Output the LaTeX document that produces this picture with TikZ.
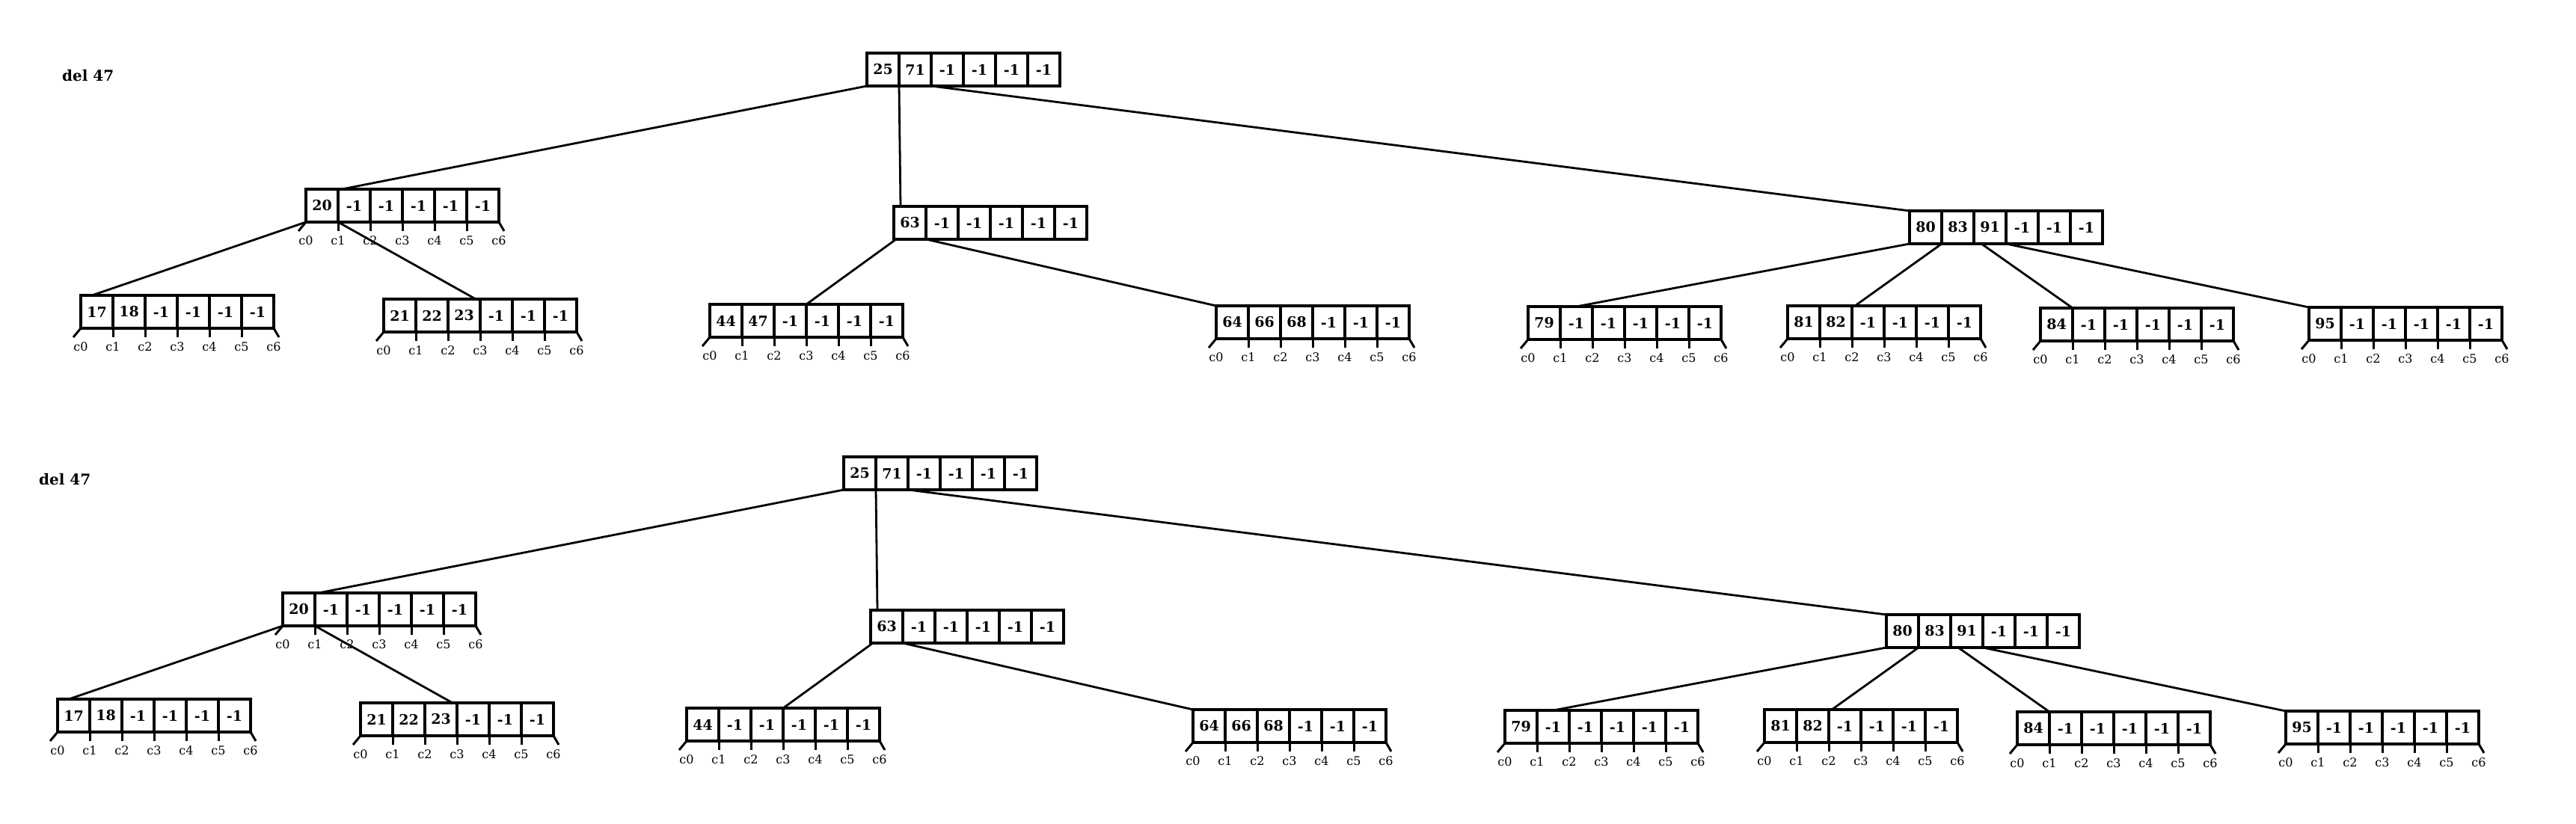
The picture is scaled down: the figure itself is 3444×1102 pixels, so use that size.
\documentclass[tikz,border=0pt]{standalone}
\usepackage{fontspec}
\setmainfont{DejaVu Serif}
\usetikzlibrary{calc}
\tikzset{
  cell/.style={draw, line width=3.2pt, minimum width=43pt, minimum height=44pt,
    inner sep=0pt, outer sep=0pt, font=\fontsize{19}{20}\selectfont\bfseries},
  lab/.style={font=\fontsize{16}{18}\selectfont, inner sep=0pt},
  titletext/.style={font=\fontsize{20}{22}\selectfont\bfseries, anchor=west, inner sep=0pt},
  conn/.style={line width=2.8pt},
  tickln/.style={line width=3pt},
}
\newcommand\btnode[4]{%
  \foreach \v [count=\i] in {#4} {\node[cell] (#1-\i) at ({#2+43*\i-21.5},{#3+22}) {\v};}}
\newcommand\clabels[1]{%
  \foreach \i in {1,...,5} {\draw[tickln] (#1-\i.south east) -- ++(0,12);}
  \draw[tickln] (#1-1.south west) -- ++(-10,12);
  \draw[tickln] (#1-6.south east) -- ++(7,12);
  \node[lab] (#1-c0) at ([yshift=-25pt]#1-1.south west) {c0};
  \foreach \i in {1,...,6} {\node[lab] (#1-c\i) at ([yshift=-25pt]#1-\i.south east) {c\i};}
}
\newcommand\drawtree[4]{%
\begin{scope}[shift={(#2,#3)}]
  \node[titletext] (#1title) at (83,101) {del 47};
  \btnode{#1R}{1159}{71}{25,71,-1,-1,-1,-1}
  \btnode{#1A}{409}{253}{20,-1,-1,-1,-1,-1}
  \btnode{#1B}{1195}{276}{63,-1,-1,-1,-1,-1}
  \btnode{#1C}{2553}{282}{80,83,91,-1,-1,-1}
  \btnode{#1La}{108}{395}{17,18,-1,-1,-1,-1}
  \btnode{#1Lb}{513}{400}{21,22,23,-1,-1,-1}
  \btnode{#1Lc}{949}{407}{#4}
  \btnode{#1Ld}{1626}{409}{64,66,68,-1,-1,-1}
  \btnode{#1Le}{2043}{410}{79,-1,-1,-1,-1,-1}
  \btnode{#1Lf}{2390}{409}{81,82,-1,-1,-1,-1}
  \btnode{#1Lg}{2728}{412}{84,-1,-1,-1,-1,-1}
  \btnode{#1Lh}{3087}{411}{95,-1,-1,-1,-1,-1}
  \clabels{#1A}
  \clabels{#1La}
  \clabels{#1Lb}
  \clabels{#1Lc}
  \clabels{#1Ld}
  \clabels{#1Le}
  \clabels{#1Lf}
  \clabels{#1Lg}
  \clabels{#1Lh}
  \draw[conn] (#1R-1.south west) -- ([xshift=5pt]#1A-2.north west);
  \draw[conn] (#1R-1.south east) -- ([xshift=9pt]#1B-1.north west);
  \draw[conn] (#1R-2.south east) -- (#1C-1.north west);
  \draw[conn] (#1A-1.south west) -- ([xshift=15pt]#1La-1.north west);
  \draw[conn] (#1A-1.south east) -- ([xshift=-6pt]#1Lb-3.north east);
  \draw[conn] ([xshift=3pt]#1B-1.south west) -- (#1Lc-3.north east);
  \draw[conn] (#1B-1.south east) -- (#1Ld-1.north west);
  \draw[conn] (#1C-1.south west) -- (#1Le-2.north);
  \draw[conn] (#1C-1.south east) -- ([xshift=4pt]#1Lf-2.north east);
  \draw[conn] ([xshift=10pt]#1C-2.south east) -- (#1Lg-1.north east);
  \draw[conn] (#1C-3.south east) -- (#1Lh-1.north west);
\end{scope}}
\begin{document}
\begin{tikzpicture}[x=1pt,y=-1pt]
  \fill[white] (0,0) rectangle (3444,1102);
  \useasboundingbox (0,0) rectangle (3444,1102);
  \drawtree{T}{0}{0}{44,47,-1,-1,-1,-1}
  \drawtree{B}{-31}{540}{44,-1,-1,-1,-1,-1}
\end{tikzpicture}
\end{document}
